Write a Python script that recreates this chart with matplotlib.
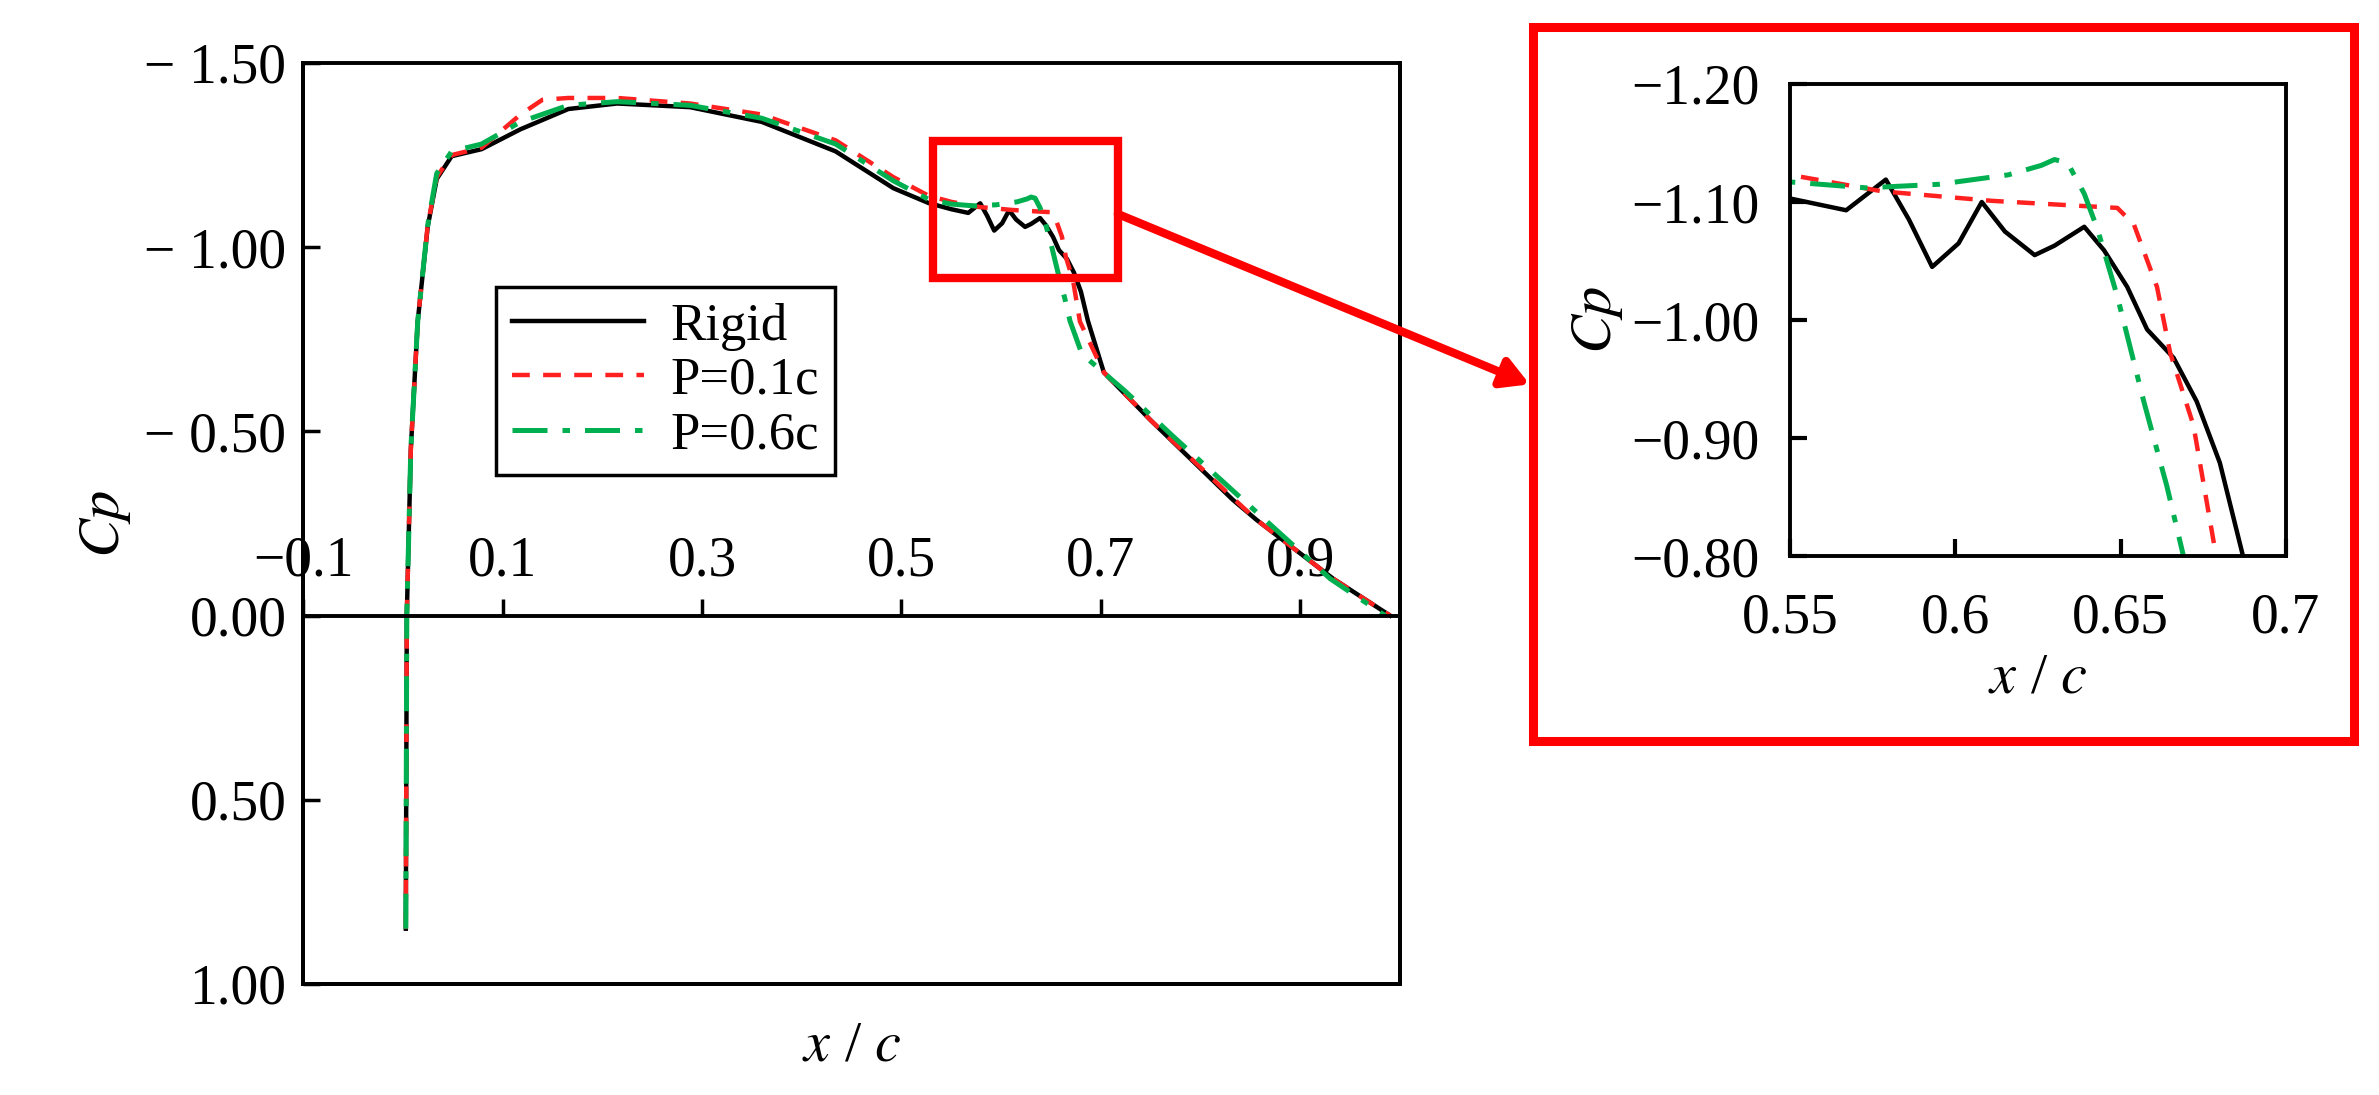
import matplotlib
matplotlib.use("Agg")
import matplotlib.pyplot as plt
from matplotlib.patches import Rectangle

plt.rcParams['font.family'] = ['Liberation Serif', 'DejaVu Serif']
plt.rcParams['mathtext.fontset'] = 'stix'

# ---------------- data ----------------
rigid_x = [0.003, 0.004, 0.008, 0.015, 0.025, 0.034, 0.049, 0.079, 0.118, 0.166, 0.215, 0.288, 0.36, 0.434, 0.492, 0.527,
           0.55, 0.567, 0.579, 0.586, 0.593, 0.601, 0.608, 0.615, 0.624, 0.630, 0.639, 0.645, 0.652, 0.658, 0.666,
           0.673, 0.680, 0.687, 0.703, 0.75, 0.832, 0.856, 0.933, 0.99]
rigid_y = [0.85, 0.0, -0.45, -0.80, -1.056, -1.185, -1.247, -1.266, -1.32, -1.375, -1.39, -1.38, -1.34, -1.26, -1.16, -1.12,
           -1.103, -1.093, -1.119, -1.085, -1.045, -1.065, -1.10, -1.075, -1.055, -1.063, -1.079, -1.059, -1.028, -0.992, -0.968,
           -0.931, -0.879, -0.80, -0.66, -0.53, -0.315, -0.26, -0.10, 0.0]

p01_x = [0.003, 0.004, 0.008, 0.015, 0.025, 0.034, 0.049, 0.079, 0.118, 0.14, 0.166, 0.215, 0.288, 0.36, 0.434, 0.492, 0.527,
         0.55, 0.578, 0.611, 0.636, 0.649, 0.654, 0.661, 0.665, 0.672, 0.679, 0.703, 0.75, 0.832, 0.856, 0.933, 0.99]
p01_y = [0.85, 0.0, -0.45, -0.80, -1.06, -1.19, -1.25, -1.27, -1.36, -1.40, -1.405, -1.405, -1.39, -1.36, -1.29, -1.19, -1.14,
         -1.123, -1.109, -1.101, -1.097, -1.095, -1.081, -1.028, -0.972, -0.911, -0.798, -0.66, -0.53, -0.32, -0.26, -0.10, 0.0]

p06_x = [0.003, 0.004, 0.008, 0.015, 0.025, 0.034, 0.049, 0.079, 0.118, 0.166, 0.215, 0.288, 0.36, 0.434, 0.492, 0.527,
         0.55, 0.573, 0.595, 0.616, 0.626, 0.630, 0.634, 0.639, 0.643, 0.649, 0.657, 0.664, 0.669, 0.681, 0.724,
         0.771, 0.836, 0.93, 0.985]
p06_y = [0.85, 0.0, -0.45, -0.80, -1.06, -1.20, -1.26, -1.28, -1.34, -1.385, -1.395, -1.385, -1.35, -1.28, -1.18, -1.13,
         -1.117, -1.112, -1.115, -1.123, -1.131, -1.136, -1.133, -1.107, -1.077, -1.020, -0.931, -0.859, -0.80, -0.71, -0.61,
         -0.49, -0.33, -0.10, 0.0]

main_xticks = [-0.1, 0.1, 0.3, 0.5, 0.7, 0.9]
main_xlabels = ['−0.1', '0.1', '0.3', '0.5', '0.7', '0.9']
main_yticks = [-1.5, -1.0, -0.5, 0.0, 0.5, 1.0]
main_ylabels = ['− 1.50', '− 1.00', '− 0.50', '0.00', '0.50', '1.00']
ins_xticks = [0.55, 0.6, 0.65, 0.7]
ins_xlabels = ['0.55', '0.6', '0.65', '0.7']
ins_yticks = [-1.2, -1.1, -1.0, -0.9, -0.8]
ins_ylabels = ['−1.20', '−1.10', '−1.00', '−0.90', '−0.80']

FS = 40
fig = plt.figure(figsize=(23.79, 10.95), dpi=100)

styles = [dict(color='black', lw=3.2, ls='-'),
          dict(color='#ff2020', lw=3.2, ls=(0, (4, 3))),
          dict(color='#00b050', lw=3.6, ls=(0, (7, 3, 1.5, 3)))]
series = [(rigid_x, rigid_y, 'Rigid'), (p01_x, p01_y, 'P=0.1c'), (p06_x, p06_y, 'P=0.6c')]

# ---------------- main axes ----------------
ax = fig.add_axes([0.1274, 0.1014, 0.4611, 0.8411])
for (x, y, lab), st in zip(series, styles):
    ax.plot(x, y, label=lab, **st)
ax.set_xlim(-0.1, 1.0)
ax.set_ylim(1.0, -1.5)
ax.spines['top'].set_position(('data', 0))
ax.spines['top'].set_linewidth(2.8)
ax.xaxis.set_ticks_position('top')
ax.set_xticks(main_xticks)
ax.set_xticklabels(main_xlabels)
ax.tick_params(axis='x', direction='out', length=12, width=2.5, labelsize=FS, pad=8)
ax.set_yticks(main_yticks)
ax.set_yticklabels(main_ylabels)
ax.tick_params(axis='y', direction='in', length=12, width=2.5, labelsize=FS, pad=12)
for s in ['left', 'right', 'bottom']:
    ax.spines[s].set_linewidth(2.8)
ax.add_patch(Rectangle((0, 0), 1, 1, transform=ax.transAxes, fill=False, lw=2.8, ec='black', clip_on=False))
ax.set_ylabel('$Cp$', fontsize=FS + 2, labelpad=8)
ax.text(0.5, -0.04, '$x$ / $c$', transform=ax.transAxes, ha='center', va='top', fontsize=FS + 2)
leg = ax.legend(loc='upper left', bbox_to_anchor=(0.176, 0.757), fontsize=38, fancybox=False,
                edgecolor='black', framealpha=1, handlelength=2.5, borderpad=0.3, labelspacing=0.12,
                handletextpad=0.5, borderaxespad=0)
leg.get_frame().set_linewidth(2.5)

# zoom box in main axes
ax.add_patch(Rectangle((0.532, -1.288), 0.717 - 0.532, -0.916 + 1.288, fill=False, ec='#ff0000', lw=6, zorder=5))
ax.annotate('', xy=(0.643, 0.649), xycoords='figure fraction', xytext=(0.717, -1.09), textcoords='data',
            arrowprops=dict(arrowstyle='-|>,head_length=1.6,head_width=0.9', color='#ff0000', lw=6,
                            shrinkA=0, shrinkB=0), annotation_clip=False)

# ---------------- inset ----------------
fig.patches.append(Rectangle((0.6444, 0.3233), 0.3451, 0.652, transform=fig.transFigure,
                             fill=False, ec='#ff0000', lw=6.5, figure=fig))
axi = fig.add_axes([0.7524, 0.4922, 0.2085, 0.4311])
for (x, y, lab), st in zip(series, styles):
    axi.plot(x, y, **st)
axi.set_xlim(0.55, 0.7)
axi.set_ylim(-0.8, -1.2)
axi.set_xticks(ins_xticks)
axi.set_xticklabels(ins_xlabels)
axi.set_yticks(ins_yticks)
axi.set_yticklabels(ins_ylabels)
axi.tick_params(direction='in', length=12, width=3, labelsize=FS)
axi.tick_params(axis='y', pad=22)
axi.tick_params(axis='x', pad=26)
for s in axi.spines.values():
    s.set_linewidth(2.8)
axi.set_ylabel('$Cp$', fontsize=FS + 2, labelpad=4)
axi.set_xlabel('$x$ / $c$', fontsize=FS + 2, labelpad=6)

fig.savefig('out.png', dpi=100)
